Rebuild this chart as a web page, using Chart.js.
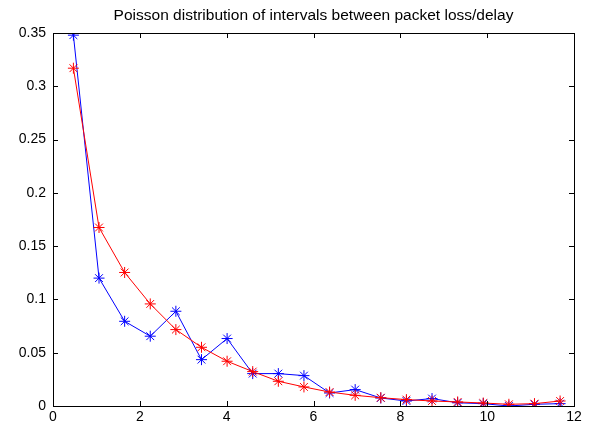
<!DOCTYPE html>
<html>
<head>
<meta charset="utf-8">
<script src="https://cdn.jsdelivr.net/npm/chart.js@4/dist/chart.umd.min.js"></script>
<style>
  body { margin: 0; background: #fff; }
  canvas { display: block; }
</style>
</head>
<body>
<canvas id="chart" width="589" height="425"></canvas>
<script>
const xValues = [0.47, 1.06, 1.65, 2.24, 2.83, 3.42, 4.01, 4.60, 5.19, 5.78,
                 6.37, 6.96, 7.55, 8.14, 8.73, 9.32, 9.91, 10.50, 11.09, 11.68];
const measured = [0.348, 0.120, 0.0795, 0.0655, 0.0889, 0.0435, 0.0633, 0.0304, 0.0304, 0.0285,
                  0.0122, 0.0154, 0.0075, 0.0047, 0.0070, 0.0030, 0.0022, 0.0000, 0.0016, 0.0022];
const poisson = [0.317, 0.1675, 0.1253, 0.0958, 0.0717, 0.0551, 0.0420, 0.0323, 0.0232, 0.0179,
                 0.0131, 0.0100, 0.0078, 0.0060, 0.0047, 0.0038, 0.0028, 0.0016, 0.0022, 0.0047];
const titleText = "Poisson distribution of intervals between packet loss/delay";

const fontFamily = "'Liberation Sans', Arial, sans-serif";

function toPoints(ys) {
  return xValues.map((x, i) => ({ x: x, y: ys[i] }));
}

// matlab style box with ticks pointing inward, title centred over the axes
const boxPlugin = {
  id: "matlabBox",
  afterLayout(chart) {
    const t = chart.titleBlock;
    if (t) {
      t.left = chart.chartArea.left;
      t.right = chart.chartArea.right;
      t.width = t.right - t.left;
    }
  },
  afterDraw(chart) {
    const ctx = chart.ctx;
    const a = chart.chartArea;
    const xs = chart.scales.x;
    const ys = chart.scales.y;
    const len = 5;
    ctx.save();
    ctx.strokeStyle = "#000";
    ctx.lineWidth = 1;
    ctx.beginPath();
    xs.ticks.forEach(t => {
      const px = Math.round(xs.getPixelForValue(t.value)) + 0.5;
      ctx.moveTo(px, a.bottom);
      ctx.lineTo(px, a.bottom - len);
      ctx.moveTo(px, a.top);
      ctx.lineTo(px, a.top + len);
    });
    ys.ticks.forEach(t => {
      const py = Math.round(ys.getPixelForValue(t.value)) + 0.5;
      ctx.moveTo(a.left, py);
      ctx.lineTo(a.left + len, py);
      ctx.moveTo(a.right, py);
      ctx.lineTo(a.right - len, py);
    });
    ctx.stroke();
    ctx.strokeRect(Math.round(a.left) + 0.5, Math.round(a.top) + 0.5,
      Math.round(a.right - a.left), Math.round(a.bottom - a.top));
    ctx.restore();
  }
};

const chart = new Chart(document.getElementById("chart"), {
  type: "line",
  data: {
    datasets: [
      {
        label: "measured",
        data: toPoints(measured),
        borderColor: "#0000ff",
        backgroundColor: "#0000ff",
        borderWidth: 1,
        pointStyle: "star",
        pointRadius: 5.5,
        pointBorderWidth: 1,
        order: 2
      },
      {
        label: "poisson",
        data: toPoints(poisson),
        borderColor: "#ff0000",
        backgroundColor: "#ff0000",
        borderWidth: 1,
        pointStyle: "star",
        pointRadius: 5.5,
        pointBorderWidth: 1,
        order: 1
      }
    ]
  },
  options: {
    responsive: false,
    animation: false,
    layout: { padding: { left: 0, right: 15, top: 0, bottom: 0 } },
    plugins: {
      legend: { display: false },
      tooltip: { enabled: false },
      title: {
        display: true,
        text: titleText,
        color: "#000",
        font: { family: fontFamily, size: 15.5, weight: "normal", lineHeight: 1.15 },
        padding: { top: 7, bottom: 8.2 }
      }
    },
    scales: {
      x: {
        type: "linear",
        min: 0,
        max: 12,
        grid: { display: false, drawTicks: false },
        border: { display: false },
        ticks: {
          stepSize: 2,
          color: "#000",
          padding: 3,
          maxRotation: 0,
          font: { family: fontFamily, size: 14 }
        },
        afterFit(scale) { scale.height = 19; }
      },
      y: {
        type: "linear",
        min: 0,
        max: 0.35,
        grid: { display: false, drawTicks: false },
        border: { display: false },
        ticks: {
          stepSize: 0.05,
          color: "#000",
          padding: 7,
          font: { family: fontFamily, size: 14 },
          callback: v => String(Number(v.toFixed(2)))
        },
        afterFit(scale) { scale.width = 53; }
      }
    }
  },
  plugins: [boxPlugin]
});
</script>
</body>
</html>
